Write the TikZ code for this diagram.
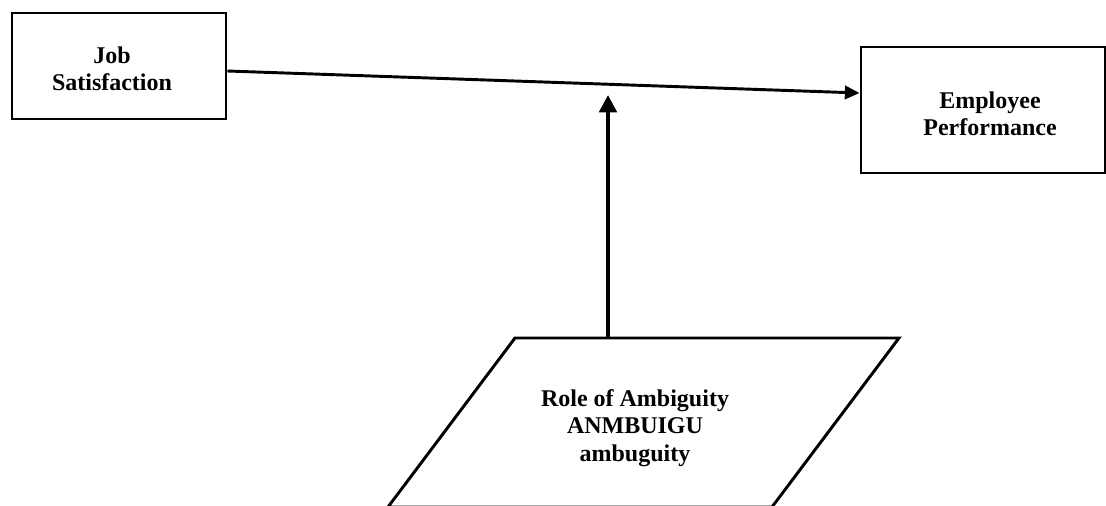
\documentclass[tikz,border=0pt]{standalone}
\usepackage{fontspec}
\setmainfont{Liberation Serif}
\usetikzlibrary{arrows.meta}
\begin{document}
\begin{tikzpicture}[x=0.75pt,y=-0.75pt,
  boxshape/.style={draw,line width=2.2pt,inner sep=0pt},
  lbl/.style={font=\bfseries\fontsize{18}{20.5}\selectfont,align=center,inner sep=0pt},
  conn/.style={line width=2.2pt,-{Triangle[length=11pt,width=10pt]}},
  vconn/.style={line width=3pt,-{Triangle[length=13pt,width=13pt]}}]
\useasboundingbox (0,0) rectangle (1106,506);
% boxes
\node[boxshape,minimum width=214*0.75pt,minimum height=106*0.75pt] (job) at (119,66) {};
\node[lbl] (jobt) at (112,69) {Job\\Satisfaction};
\node[boxshape,minimum width=244*0.75pt,minimum height=126*0.75pt] (emp) at (983,110) {};
\node[lbl] (empt) at (990,114) {Employee\\Performance};
% parallelogram
\coordinate (pbl) at (388,507);
\coordinate (ptl) at (515,338);
\coordinate (ptr) at (899,338);
\coordinate (pbr) at (772,507);
\draw[line width=2.2pt,line join=miter] (pbl) -- (ptl) -- (ptr) -- (pbr) -- cycle;
\node[lbl] (role) at (635,428) {Role of Ambiguity\\ANMBUIGU\\ambuguity};
% connectors
\coordinate (vbase) at (608,339);
\coordinate (vtip) at (608,95);
\draw[conn] ([yshift=-5*0.75pt]job.east) -- ([yshift=17*0.75pt]emp.west);
\draw[vconn] (vbase) -- (vtip);
\end{tikzpicture}
\end{document}
